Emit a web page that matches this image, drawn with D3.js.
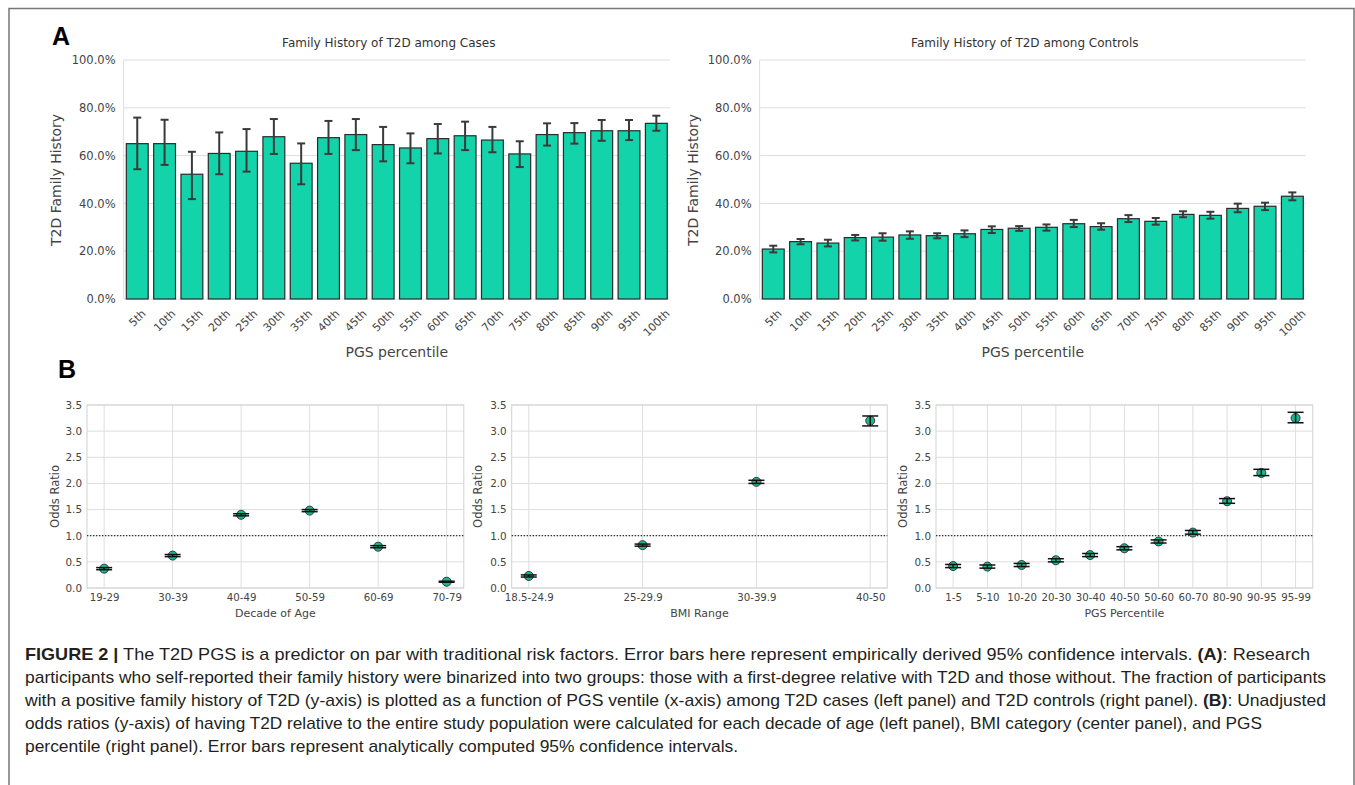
<!DOCTYPE html>
<html>
<head>
<meta charset="utf-8">
<script src="https://cdn.jsdelivr.net/npm/d3@7"></script>
<style>
body { margin: 0; background: #fff; }
svg { display: block; }
text { font-family: "DejaVu Sans", sans-serif; fill: #333; }
.caption text, .caption tspan { font-family: "Liberation Sans", Arial, sans-serif; fill: #231f20; }
</style>
</head>
<body>
<svg id="fig" width="1355" height="785"></svg>
<script>
// Panel A: family history by PGS ventile
let percentiles = ["5th", "10th", "15th", "20th", "25th", "30th", "35th", "40th", "45th", "50th",
  "55th", "60th", "65th", "70th", "75th", "80th", "85th", "90th", "95th", "100th"];
let casesFH = [65.0, 65.0, 52.2, 60.9, 61.8, 67.9, 56.8, 67.5, 68.8, 64.6,
  63.2, 67.1, 68.3, 66.5, 60.7, 68.8, 69.6, 70.4, 70.4, 73.5];
let casesLo = [54.3, 56.1, 41.8, 52.2, 53.3, 60.7, 48.0, 60.7, 62.3, 57.6,
  56.8, 60.9, 62.3, 61.4, 55.2, 64.2, 65.0, 66.2, 66.5, 70.4];
let casesHi = [75.9, 75.0, 61.6, 69.7, 71.1, 75.3, 65.1, 74.5, 75.3, 72.0,
  69.3, 73.2, 74.2, 72.0, 66.0, 73.5, 73.6, 74.9, 74.9, 76.7];
let controlsFH = [20.9, 24.0, 23.4, 25.7, 25.9, 26.8, 26.5, 27.3, 29.1, 29.6,
  30.0, 31.5, 30.3, 33.6, 32.5, 35.4, 35.0, 37.9, 38.8, 43.0];
let controlsLo = [19.5, 22.9, 22.0, 24.5, 24.4, 25.2, 25.4, 25.9, 27.6, 28.5,
  28.6, 30.1, 29.0, 32.2, 31.1, 34.2, 33.6, 36.3, 37.2, 41.3];
let controlsHi = [22.3, 25.1, 24.8, 26.8, 27.5, 28.3, 27.5, 28.7, 30.4, 30.5,
  31.2, 33.1, 31.7, 35.1, 33.9, 36.7, 36.5, 39.9, 40.3, 44.6];
let pctTicks = [0, 20, 40, 60, 80, 100];

// Panel B: odds ratios
let ageGroups = ["19-29", "30-39", "40-49", "50-59", "60-69", "70-79"];
let ageOR = [0.37, 0.62, 1.40, 1.48, 0.79, 0.12];
let ageLo = [0.35, 0.60, 1.38, 1.46, 0.77, 0.11];
let ageHi = [0.39, 0.64, 1.42, 1.50, 0.81, 0.13];

let bmiGroups = ["18.5-24.9", "25-29.9", "30-39.9", "40-50"];
let bmiOR = [0.23, 0.82, 2.03, 3.20];
let bmiLo = [0.21, 0.80, 2.00, 3.10];
let bmiHi = [0.25, 0.84, 2.06, 3.29];

let pgsGroups = ["1-5", "5-10", "10-20", "20-30", "30-40", "40-50", "50-60", "60-70", "80-90", "90-95", "95-99"];
let pgsOR = [0.42, 0.41, 0.44, 0.53, 0.63, 0.76, 0.89, 1.06, 1.66, 2.20, 3.25];
let pgsLo = [0.39, 0.38, 0.41, 0.50, 0.60, 0.73, 0.86, 1.03, 1.62, 2.15, 3.16];
let pgsHi = [0.45, 0.44, 0.47, 0.56, 0.66, 0.79, 0.92, 1.10, 1.71, 2.27, 3.36];
let orTicks = [0, 0.5, 1.0, 1.5, 2.0, 2.5, 3.0, 3.5];

let barColor = "#12d3aa";
let dotColor = "#1bb890";
let gridColor = "#dedede";

let svg = d3.select("#fig");

// outer frame
svg.append("path")
  .attr("d", "M9,790 V8.5 H1354 V790")
  .attr("fill", "none")
  .attr("stroke", "#777")
  .attr("stroke-width", 1.5);

// panel letters
svg.append("text").attr("x", 52).attr("y", 45).text("A")
  .style("font-family", "Liberation Sans, Arial, sans-serif").style("font-weight", "bold")
  .style("font-size", "25px").style("fill", "#000");
svg.append("text").attr("x", 58).attr("y", 378).text("B")
  .style("font-family", "Liberation Sans, Arial, sans-serif").style("font-weight", "bold")
  .style("font-size", "25px").style("fill", "#000");

function barPanel(p) {
  let g = svg.append("g");
  let x = d3.scaleBand().domain(percentiles).range([p.left, p.right])
    .paddingInner(0.2).paddingOuter(0.1);
  let y = d3.scaleLinear().domain([0, 100]).range([299, 60]);

  // grid
  g.selectAll(".grid").data(pctTicks).join("line")
    .attr("x1", p.left).attr("x2", p.right)
    .attr("y1", d => y(d)).attr("y2", d => y(d))
    .attr("stroke", gridColor).attr("stroke-width", 1);
  g.append("line").attr("x1", p.left).attr("x2", p.left)
    .attr("y1", y(0)).attr("y2", y(100)).attr("stroke", gridColor);

  // y axis
  let ya = g.append("g").attr("transform", `translate(${p.left},0)`)
    .call(d3.axisLeft(y).tickValues(pctTicks).tickFormat(d => d.toFixed(1) + "%").tickSize(0).tickPadding(8));
  ya.select(".domain").remove();
  ya.selectAll("text").style("font-size", "11.5px").style("fill", "#444");

  // x axis
  let xa = g.append("g").attr("transform", "translate(0,299)")
    .call(d3.axisBottom(x).tickSize(0));
  xa.select(".domain").remove();
  xa.selectAll("text").style("font-size", "11px").style("fill", "#444")
    .each(function() {
      let L = this.getComputedTextLength();
      let c = (L + 10) / (2 * Math.SQRT2);
      d3.select(this).attr("y", null).attr("dy", "0.35em").attr("text-anchor", "middle")
        .attr("transform", `translate(0,${9 + c}) rotate(-45)`);
    });

  // bars
  g.selectAll(".bar").data(p.vals).join("rect")
    .attr("x", (d, i) => x(percentiles[i]))
    .attr("width", x.bandwidth())
    .attr("y", d => y(d))
    .attr("height", d => y(0) - y(d))
    .attr("fill", barColor)
    .attr("stroke", "#2a2a2a")
    .attr("stroke-width", 1.2);

  // error bars
  let eb = g.selectAll(".eb").data(p.vals).join("g")
    .attr("transform", (d, i) => `translate(${x(percentiles[i]) + x.bandwidth() / 2},0)`);
  eb.append("line").attr("y1", (d, i) => y(p.lo[i])).attr("y2", (d, i) => y(p.hi[i]))
    .attr("stroke", "#3a3a3a").attr("stroke-width", 2);
  eb.append("line").attr("x1", -4).attr("x2", 4)
    .attr("y1", (d, i) => y(p.lo[i])).attr("y2", (d, i) => y(p.lo[i]))
    .attr("stroke", "#3a3a3a").attr("stroke-width", 2);
  eb.append("line").attr("x1", -4).attr("x2", 4)
    .attr("y1", (d, i) => y(p.hi[i])).attr("y2", (d, i) => y(p.hi[i]))
    .attr("stroke", "#3a3a3a").attr("stroke-width", 2);

  // titles
  let cx = (p.left + p.right) / 2;
  g.append("text").attr("x", cx - 8).attr("y", 47).attr("text-anchor", "middle")
    .style("font-size", "12px").text(p.title);
  g.append("text").attr("x", cx).attr("y", 357).attr("text-anchor", "middle")
    .style("font-size", "14px").style("fill", "#444").text("PGS percentile");
  g.append("text").attr("transform", `translate(${p.ylabelX},180) rotate(-90)`)
    .attr("text-anchor", "middle").attr("dy", "0.35em")
    .style("font-size", "14px").style("fill", "#444").text("T2D Family History");
}

barPanel({ left: 123.6, right: 670, title: "Family History of T2D among Cases",
  vals: casesFH, lo: casesLo, hi: casesHi, ylabelX: 56 });
barPanel({ left: 759.6, right: 1306, title: "Family History of T2D among Controls",
  vals: controlsFH, lo: controlsLo, hi: controlsHi, ylabelX: 693 });

function pointPanel(p) {
  let g = svg.append("g");
  let n = p.cats.length;
  let x = d3.scalePoint().domain(p.cats).range([p.left, p.right]).padding(0.05 * (n - 1));
  let y = d3.scaleLinear().domain([0, 3.5]).range([588, 405]);

  // grid + frame
  g.selectAll(".hg").data(orTicks).join("line")
    .attr("x1", p.left).attr("x2", p.right)
    .attr("y1", d => y(d)).attr("y2", d => y(d))
    .attr("stroke", gridColor);
  g.selectAll(".vg").data(p.cats).join("line")
    .attr("x1", d => x(d)).attr("x2", d => x(d))
    .attr("y1", y(0)).attr("y2", y(3.5))
    .attr("stroke", gridColor);
  g.append("rect").attr("x", p.left).attr("y", y(3.5))
    .attr("width", p.right - p.left).attr("height", y(0) - y(3.5))
    .attr("fill", "none").attr("stroke", "#d2d2d2");

  // reference line at OR = 1
  g.append("line").attr("x1", p.left).attr("x2", p.right)
    .attr("y1", y(1)).attr("y2", y(1))
    .attr("stroke", "#333").attr("stroke-width", 1.3).attr("stroke-dasharray", "1.3,1.7");

  // axes
  let ya = g.append("g").attr("transform", `translate(${p.left},0)`)
    .call(d3.axisLeft(y).tickValues(orTicks).tickFormat(d3.format(".1f")).tickSize(0).tickPadding(5));
  ya.select(".domain").remove();
  ya.selectAll("text").style("font-size", "10.4px").style("fill", "#444");

  let xa = g.append("g").attr("transform", "translate(0,588)")
    .call(d3.axisBottom(x).tickSize(0).tickPadding(6));
  xa.select(".domain").remove();
  xa.selectAll("text").style("font-size", "10.2px").style("fill", "#444");

  // points then error bars on top
  g.selectAll(".pt").data(p.vals).join("circle")
    .attr("cx", (d, i) => x(p.cats[i]))
    .attr("cy", d => y(d))
    .attr("r", 4.5)
    .attr("fill", dotColor)
    .attr("stroke", "#2b2b2b")
    .attr("stroke-width", 0.9);

  let eb = g.selectAll(".eb").data(p.vals).join("g")
    .attr("transform", (d, i) => `translate(${x(p.cats[i])},0)`);
  eb.append("line").attr("y1", (d, i) => y(p.lo[i])).attr("y2", (d, i) => y(p.hi[i]))
    .attr("stroke", "#111").attr("stroke-width", 1.5);
  eb.append("line").attr("x1", -8).attr("x2", 8)
    .attr("y1", (d, i) => y(p.lo[i])).attr("y2", (d, i) => y(p.lo[i]))
    .attr("stroke", "#111").attr("stroke-width", 1.5);
  eb.append("line").attr("x1", -8).attr("x2", 8)
    .attr("y1", (d, i) => y(p.hi[i])).attr("y2", (d, i) => y(p.hi[i]))
    .attr("stroke", "#111").attr("stroke-width", 1.5);

  g.append("text").attr("x", (p.left + p.right) / 2).attr("y", 617).attr("text-anchor", "middle")
    .style("font-size", "11px").style("fill", "#444").text(p.xlabel);
  g.append("text").attr("transform", `translate(${p.ylabelX},496.5) rotate(-90)`)
    .attr("text-anchor", "middle").attr("dy", "0.35em")
    .style("font-size", "11.5px").style("fill", "#444").text("Odds Ratio");
}

pointPanel({ left: 87, right: 463.8, cats: ageGroups, vals: ageOR, lo: ageLo, hi: ageHi,
  xlabel: "Decade of Age", ylabelX: 55 });
pointPanel({ left: 511.7, right: 887.3, cats: bmiGroups, vals: bmiOR, lo: bmiLo, hi: bmiHi,
  xlabel: "BMI Range", ylabelX: 478 });
pointPanel({ left: 936, right: 1312.7, cats: pgsGroups, vals: pgsOR, lo: pgsLo, hi: pgsHi,
  xlabel: "PGS Percentile", ylabelX: 903 });

// Caption
let captionLines = [
  [["FIGURE 2 |", true], [" The T2D PGS is a predictor on par with traditional risk factors. Error bars here represent empirically derived 95% confidence intervals. ", false], ["(A)", true], [": Research", false]],
  [["participants who self-reported their family history were binarized into two groups: those with a first-degree relative with T2D and those without. The fraction of participants", false]],
  [["with a positive family history of T2D (y-axis) is plotted as a function of PGS ventile (x-axis) among T2D cases (left panel) and T2D controls (right panel). ", false], ["(B)", true], [": Unadjusted", false]],
  [["odds ratios (y-axis) of having T2D relative to the entire study population were calculated for each decade of age (left panel), BMI category (center panel), and PGS", false]],
  [["percentile (right panel). Error bars represent analytically computed 95% confidence intervals.", false]]
];
let captionEnds = [1310, 1326, 1326, 1262, null];
let captionY = [660, 683, 706, 729, 752];

let cap = svg.append("g").attr("class", "caption");
let capTexts = captionLines.map((line, i) => {
  let t = cap.append("text").attr("x", 25).attr("y", captionY[i]).style("font-size", "13.5px");
  line.forEach(seg => {
    t.append("tspan").text(seg[0]).style("font-weight", seg[1] ? "bold" : "normal");
  });
  return t;
});
// size the caption font from line 2, then fit lines 1-4 to their measured ends
let natural = capTexts[1].node().getComputedTextLength();
let capSize = 13.5 * (captionEnds[1] - 25) / natural;
capTexts.forEach((t, i) => {
  t.style("font-size", capSize + "px");
  if (captionEnds[i]) t.attr("textLength", captionEnds[i] - 25).attr("lengthAdjust", "spacingAndGlyphs");
});
</script>
</body>
</html>
